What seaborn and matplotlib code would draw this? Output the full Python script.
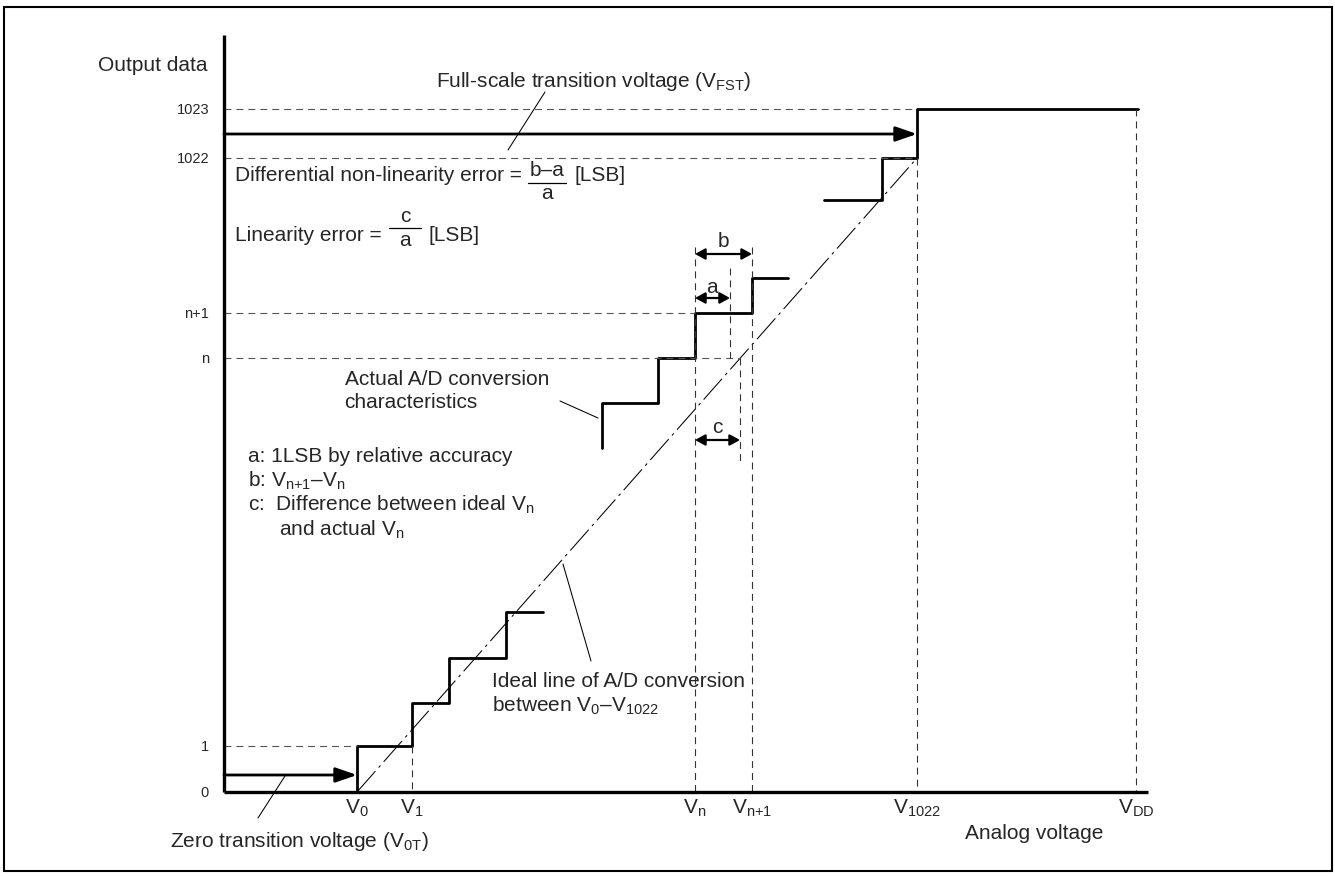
import matplotlib
matplotlib.use("Agg")
import matplotlib.pyplot as plt
from matplotlib.patches import Rectangle
import pandas as pd
import seaborn as sns

# diagram is drawn in the pixel frame of the original figure (y grows downwards)
volt_pos = [357, 412, 695, 752, 917, 1136]
volt_labels = [r"V$_{0}$", r"V$_{1}$", r"V$_{n}$", r"V$_{n{+}1}$", r"V$_{1022}$", r"V$_{DD}$"]
code_pos = [792, 746, 358, 313, 158, 109]
code_labels = ["0", "1", "n", "n+1", "1022", "1023"]

# actual conversion staircases
low_x = [357, 357, 412, 412, 449, 449, 506, 506, 543]
low_y = [792, 746, 746, 703, 703, 658, 658, 612, 612]
mid_x = [602, 602, 658, 658, 695, 695, 752, 752, 788]
mid_y = [448, 403, 403, 358, 358, 313, 313, 278, 278]
top_x = [824, 882, 882, 917, 917, 1138]
top_y = [200, 200, 158, 158, 109, 109]

# ideal line V0 -> V1022
ideal_x = [357, 917]
ideal_y = [792, 158]

# dashed guides: horizontal (y, x_from, x_to) and vertical (x, y_from, y_to)
hguides = [(109, 224, 917), (158, 224, 917), (313, 224, 695), (358, 224, 740), (746, 224, 357)]
vguides = [(412, 746, 792), (695, 247, 792), (730, 268, 358), (740, 358, 463),
           (752, 247, 792), (917, 158, 792), (1136, 109, 792)]

# thin leader lines
leaders = [((545, 92), (508, 150)), ((258, 818), (285, 776)),
           ((563, 564), (591, 661)), ((560, 401), (598, 418))]

sns.set_theme(style="white")
plt.rcParams["font.family"] = ["Liberation Sans", "DejaVu Sans"]
plt.rcParams["mathtext.fontset"] = "custom"
plt.rcParams["mathtext.rm"] = "Liberation Sans"
plt.rcParams["mathtext.default"] = "regular"
plt.rcParams["lines.scale_dashes"] = False

fig = plt.figure(figsize=(13.35, 8.76), dpi=100)
ax = fig.add_axes([0, 0, 1, 1])

steps = pd.concat([
    pd.DataFrame({"x": low_x, "y": low_y, "seg": "low"}),
    pd.DataFrame({"x": mid_x, "y": mid_y, "seg": "mid"}),
    pd.DataFrame({"x": top_x, "y": top_y, "seg": "top"}),
])
sns.lineplot(data=steps, x="x", y="y", units="seg", estimator=None, sort=False,
             color="black", lw=2.0, ax=ax, legend=False)
sns.lineplot(x=ideal_x, y=ideal_y, sort=False, estimator=None, color="black",
             lw=0.75, dashes=False, ax=ax)
ax.lines[-1].set_dashes((20, 3.5, 2, 3.5))

dash = (0, (5, 3.6))
for y, x0, x1 in hguides:
    ax.plot([x0, x1], [y, y], color="#555555", lw=0.8, linestyle=dash)
for x, y0, y1 in vguides:
    ax.plot([x, x], [y0, y1], color="#333333", lw=0.8, linestyle=dash)

for (x0, y0), (x1, y1) in leaders:
    ax.plot([x0, x1], [y0, y1], color="black", lw=0.75)

# axes of the diagram
ax.plot([224, 224], [35, 792], color="black", lw=2.4, solid_capstyle="butt")
ax.plot([224, 1148], [792, 792], color="black", lw=2.4, solid_capstyle="butt")

# transition arrows
big = dict(arrowstyle="-|>,head_length=1.3,head_width=0.45", color="black", lw=2.0,
           shrinkA=0, shrinkB=0, mutation_scale=10)
ax.annotate("", xy=(917, 134), xytext=(224, 134), arrowprops=big)
ax.annotate("", xy=(357, 775), xytext=(224, 775), arrowprops=big)

small = dict(arrowstyle="<|-|>,head_length=0.6,head_width=0.33", color="black", lw=1.6,
             shrinkA=0, shrinkB=0, mutation_scale=10)
ax.annotate("", xy=(752, 254), xytext=(695, 254), arrowprops=small)
ax.annotate("", xy=(730, 298), xytext=(695, 298), arrowprops=small)
ax.annotate("", xy=(740, 440), xytext=(695, 440), arrowprops=small)
ax.text(723, 247, "b", fontsize=15, ha="center", va="baseline")
ax.text(712, 293, "a", fontsize=15, ha="center", va="baseline")
ax.text(717, 433, "c", fontsize=15, ha="center", va="baseline")

# tick labels
for x, lab in zip(volt_pos, volt_labels):
    ax.text(x, 814, lab, fontsize=15, ha="center", va="baseline")
for y, lab in zip(code_pos, code_labels):
    ax.text(209, y + 1, lab, fontsize=10.5, ha="right", va="center")

# texts
T = dict(fontsize=15, va="baseline")
ax.text(208, 71, "Output data", ha="right", **T)
ax.text(436, 87, r"Full-scale transition voltage (V$_{FST}$)", **T)
ax.text(235, 181, "Differential non-linearity error =", **T)
ax.text(547, 176, "b\u2013a", ha="center", **T)
ax.plot([528, 566], [183, 183], color="black", lw=0.9)
ax.text(547, 199, "a", ha="center", **T)
ax.text(575, 181, "[LSB]", **T)
ax.text(235, 241, "Linearity error =", **T)
ax.text(405, 222, "c", ha="center", **T)
ax.plot([389, 421], [228, 228], color="black", lw=0.9)
ax.text(405, 246, "a", ha="center", **T)
ax.text(428, 241, "[LSB]", **T)
ax.text(345, 385, "Actual A/D conversion", **T)
ax.text(344, 408, "characteristics", **T)
ax.text(248, 462, "a: 1LSB by relative accuracy", **T)
ax.text(248, 487, r"b: V$_{n{+}1}$\u2013V$_{n}$".replace("\\u2013", "\u2013"), **T)
ax.text(248, 511, r"c:  Difference between ideal V$_{n}$", **T)
ax.text(279, 536, r"and actual V$_{n}$", **T)
ax.text(492, 687, "Ideal line of A/D conversion", **T)
ax.text(492, 712, "between V$_{0}$\u2013V$_{1022}$", **T)
ax.text(170, 847, r"Zero transition voltage (V$_{0T}$)", **T)
ax.text(1034, 839, "Analog voltage", ha="center", **T)

# outer frame
ax.add_patch(Rectangle((4, 7), 1328, 864, fill=False, edgecolor="black", lw=1.5))

ax.set_xlim(0, 1335)
ax.set_ylim(876, 0)
ax.axis("off")
fig.savefig("out.png", dpi=100, facecolor="white")
